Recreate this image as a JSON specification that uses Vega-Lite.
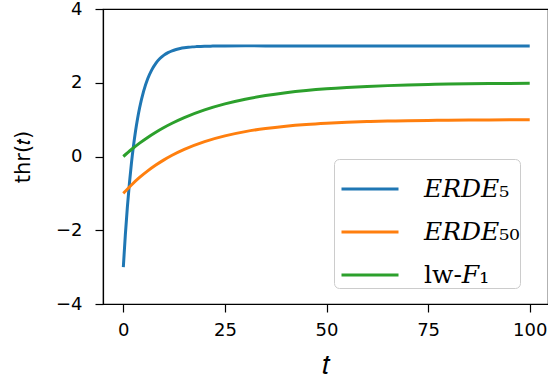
{
  "$schema": "https://vega.github.io/schema/vega-lite/v6.json",
  "autosize": {"type": "none"},
  "padding": {"left": 103, "top": 9, "right": 0, "bottom": 76},
  "width": 445,
  "height": 295,
  "background": "white",
  "config": {
    "view": {"stroke": "black", "strokeWidth": 1.2},
    "axis": {
      "grid": false,
      "domainColor": "black",
      "domainWidth": 1.2,
      "tickColor": "black",
      "tickWidth": 1.2,
      "tickSize": 8,
      "labelFont": "DejaVu Sans",
      "labelFontSize": 18,
      "labelColor": "black",
      "titleFont": "DejaVu Sans",
      "titleFontWeight": "normal",
      "titleFontSize": 21,
      "titleColor": "black"
    }
  },
  "data": {
    "values": [
      {"t": 0, "thr": -3, "s": "ERDE5"},
      {"t": 0.5, "thr": -2.119, "s": "ERDE5"},
      {"t": 1, "thr": -1.368, "s": "ERDE5"},
      {"t": 1.5, "thr": -0.727, "s": "ERDE5"},
      {"t": 2, "thr": -0.18, "s": "ERDE5"},
      {"t": 2.5, "thr": 0.287, "s": "ERDE5"},
      {"t": 3, "thr": 0.685, "s": "ERDE5"},
      {"t": 3.5, "thr": 1.025, "s": "ERDE5"},
      {"t": 4, "thr": 1.315, "s": "ERDE5"},
      {"t": 5, "thr": 1.773, "s": "ERDE5"},
      {"t": 6, "thr": 2.107, "s": "ERDE5"},
      {"t": 7, "thr": 2.35, "s": "ERDE5"},
      {"t": 8, "thr": 2.527, "s": "ERDE5"},
      {"t": 9, "thr": 2.656, "s": "ERDE5"},
      {"t": 10, "thr": 2.749, "s": "ERDE5"},
      {"t": 11, "thr": 2.817, "s": "ERDE5"},
      {"t": 12, "thr": 2.867, "s": "ERDE5"},
      {"t": 13, "thr": 2.903, "s": "ERDE5"},
      {"t": 14, "thr": 2.93, "s": "ERDE5"},
      {"t": 15, "thr": 2.949, "s": "ERDE5"},
      {"t": 16, "thr": 2.963, "s": "ERDE5"},
      {"t": 17, "thr": 2.973, "s": "ERDE5"},
      {"t": 18, "thr": 2.98, "s": "ERDE5"},
      {"t": 20, "thr": 2.99, "s": "ERDE5"},
      {"t": 22, "thr": 2.994, "s": "ERDE5"},
      {"t": 25, "thr": 2.998, "s": "ERDE5"},
      {"t": 30, "thr": 3.0, "s": "ERDE5"},
      {"t": 40, "thr": 3.0, "s": "ERDE5"},
      {"t": 50, "thr": 3.0, "s": "ERDE5"},
      {"t": 60, "thr": 3.0, "s": "ERDE5"},
      {"t": 70, "thr": 3.0, "s": "ERDE5"},
      {"t": 80, "thr": 3.0, "s": "ERDE5"},
      {"t": 90, "thr": 3.0, "s": "ERDE5"},
      {"t": 100, "thr": 3.0, "s": "ERDE5"},
      {"t": 0, "thr": -1, "s": "ERDE50"},
      {"t": 2, "thr": -0.772, "s": "ERDE50"},
      {"t": 4, "thr": -0.569, "s": "ERDE50"},
      {"t": 6, "thr": -0.39, "s": "ERDE50"},
      {"t": 8, "thr": -0.232, "s": "ERDE50"},
      {"t": 10, "thr": -0.091, "s": "ERDE50"},
      {"t": 12, "thr": 0.034, "s": "ERDE50"},
      {"t": 15, "thr": 0.194, "s": "ERDE50"},
      {"t": 20, "thr": 0.405, "s": "ERDE50"},
      {"t": 25, "thr": 0.56, "s": "ERDE50"},
      {"t": 30, "thr": 0.675, "s": "ERDE50"},
      {"t": 35, "thr": 0.76, "s": "ERDE50"},
      {"t": 40, "thr": 0.823, "s": "ERDE50"},
      {"t": 45, "thr": 0.869, "s": "ERDE50"},
      {"t": 50, "thr": 0.903, "s": "ERDE50"},
      {"t": 55, "thr": 0.929, "s": "ERDE50"},
      {"t": 60, "thr": 0.947, "s": "ERDE50"},
      {"t": 65, "thr": 0.961, "s": "ERDE50"},
      {"t": 70, "thr": 0.971, "s": "ERDE50"},
      {"t": 75, "thr": 0.979, "s": "ERDE50"},
      {"t": 80, "thr": 0.984, "s": "ERDE50"},
      {"t": 85, "thr": 0.988, "s": "ERDE50"},
      {"t": 90, "thr": 0.991, "s": "ERDE50"},
      {"t": 95, "thr": 0.994, "s": "ERDE50"},
      {"t": 100, "thr": 0.995, "s": "ERDE50"},
      {"t": 0, "thr": 0, "s": "lwF1"},
      {"t": 2, "thr": 0.19, "s": "lwF1"},
      {"t": 4, "thr": 0.363, "s": "lwF1"},
      {"t": 6, "thr": 0.518, "s": "lwF1"},
      {"t": 8, "thr": 0.659, "s": "lwF1"},
      {"t": 10, "thr": 0.787, "s": "lwF1"},
      {"t": 12, "thr": 0.902, "s": "lwF1"},
      {"t": 15, "thr": 1.055, "s": "lwF1"},
      {"t": 20, "thr": 1.264, "s": "lwF1"},
      {"t": 25, "thr": 1.427, "s": "lwF1"},
      {"t": 30, "thr": 1.554, "s": "lwF1"},
      {"t": 35, "thr": 1.652, "s": "lwF1"},
      {"t": 40, "thr": 1.729, "s": "lwF1"},
      {"t": 45, "thr": 1.789, "s": "lwF1"},
      {"t": 50, "thr": 1.836, "s": "lwF1"},
      {"t": 55, "thr": 1.872, "s": "lwF1"},
      {"t": 60, "thr": 1.9, "s": "lwF1"},
      {"t": 65, "thr": 1.922, "s": "lwF1"},
      {"t": 70, "thr": 1.94, "s": "lwF1"},
      {"t": 75, "thr": 1.953, "s": "lwF1"},
      {"t": 80, "thr": 1.963, "s": "lwF1"},
      {"t": 85, "thr": 1.971, "s": "lwF1"},
      {"t": 90, "thr": 1.978, "s": "lwF1"},
      {"t": 95, "thr": 1.983, "s": "lwF1"},
      {"t": 100, "thr": 1.987, "s": "lwF1"}
    ]
  },
  "mark": {"type": "line", "strokeWidth": 3, "interpolate": "monotone", "clip": true},
  "encoding": {
    "x": {
      "field": "t", "type": "quantitative",
      "scale": {"domain": [-5, 104.5], "nice": false, "zero": false},
      "axis": {"values": [0, 25, 50, 75, 100], "title": "𝑡", "labelPadding": 9, "titlePadding": 12, "titleFontSize": 28}
    },
    "y": {
      "field": "thr", "type": "quantitative",
      "scale": {"domain": [-4, 4], "nice": false},
      "axis": {"values": [-4, -2, 0, 2, 4], "title": "thr(𝑡)", "labelPadding": 13, "titlePadding": 22}
    },
    "color": {
      "field": "s", "type": "nominal",
      "scale": {"domain": ["ERDE5", "ERDE50", "lwF1"], "range": ["#1f77b4", "#ff7f0e", "#2ca02c"]},
      "legend": {
        "orient": "none",
        "legendX": 231,
        "legendY": 150,
        "title": null,
        "symbolType": "stroke",
        "symbolSize": 3249,
        "symbolStrokeWidth": 3,
        "symbolOffset": 6,
        "labelFont": "DejaVu Serif",
        "labelFontSize": 25,
        "labelColor": "black",
        "labelOffset": 24,
        "rowPadding": -17,
        "padding": 0,
        "strokeColor": "#cccccc",
        "fillColor": "white",
        "cornerRadius": 5,
        "labelExpr": "datum.value == 'ERDE5' ? '𝐸𝑅𝐷𝐸₅' : datum.value == 'ERDE50' ? '𝐸𝑅𝐷𝐸₅₀' : 'lw-𝐹₁'"
      }
    }
  }
}
